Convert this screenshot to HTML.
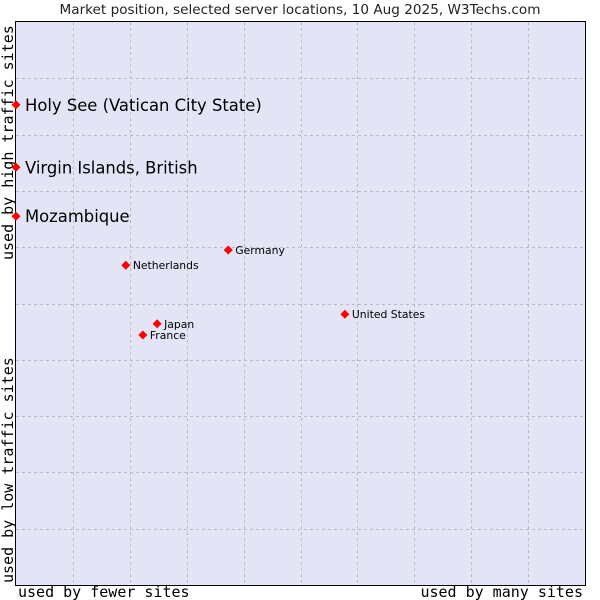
<!DOCTYPE html>
<html><head><meta charset="utf-8"><style>
html,body{margin:0;padding:0;background:#fff;width:600px;height:600px;overflow:hidden}
</style></head><body>
<svg width="600" height="600" xmlns="http://www.w3.org/2000/svg">
<text x="300" y="14" text-anchor="middle" font-family="DejaVu Sans, sans-serif" font-size="13.6" fill="#222">Market position, selected server locations, 10 Aug 2025, W3Techs.com</text>
<rect x="15.5" y="21.5" width="570" height="564" fill="#e3e5f7" stroke="#000" stroke-width="1"/>
<g id="grid"></g>
<text x="18" y="597" font-family="DejaVu Sans Mono, monospace" font-size="15" fill="#000">used by fewer sites</text>
<text x="583" y="597" text-anchor="end" font-family="DejaVu Sans Mono, monospace" font-size="15" fill="#000">used by many sites</text>
<text transform="translate(13,583) rotate(-90)" font-family="DejaVu Sans Mono, monospace" font-size="15" fill="#000">used by low traffic sites</text>
<text transform="translate(13,260) rotate(-90)" font-family="DejaVu Sans Mono, monospace" font-size="15" fill="#000">used by high traffic sites</text>
<g id="points"></g>
</svg>
<script>
const countries = ["Holy See (Vatican City State)","Virgin Islands, British","Mozambique","Germany","Netherlands","United States","Japan","France"];
const xValues = [0,0,0,37.3,19.3,57.8,24.8,22.3];
const yValues = [85.3,74.2,65.5,59.5,56.8,48.1,46.4,44.4];
const bigLabel = [true,true,true,false,false,false,false,false];
const NS="http://www.w3.org/2000/svg";
const X0=16,X1=585,Y0=585,Y1=22;
function sx(v){return X0+v/100*(X1-X0);}
function sy(v){return Y0-v/100*(Y0-Y1);}
const grid=document.getElementById('grid');
for(let i=1;i<10;i++){
  const v=document.createElementNS(NS,'line');
  
  
  const gx=Math.round(sx(i*10))+0.5;
  v.setAttribute('x1',gx);v.setAttribute('x2',gx);v.setAttribute('y1',22);v.setAttribute('y2',585);
  v.setAttribute('stroke','#bbb');v.setAttribute('stroke-dasharray','3,3');
  grid.appendChild(v);
  const h=document.createElementNS(NS,'line');
  
  
  const gy=Math.round(sy(i*10))+0.5;
  h.setAttribute('y1',gy);h.setAttribute('y2',gy);h.setAttribute('x1',16);h.setAttribute('x2',585);
  h.setAttribute('stroke','#bbb');h.setAttribute('stroke-dasharray','3,3');
  grid.appendChild(h);
}
const pts=document.getElementById('points');
countries.forEach((c,i)=>{
  const x=sx(xValues[i]),y=sy(yValues[i]);
  const m=document.createElementNS(NS,'polygon');
  
  
  m.setAttribute('points',`${x},${y-4.5} ${x+4.5},${y} ${x},${y+4.5} ${x-4.5},${y}`);
  m.setAttribute('fill','#f00');
  pts.appendChild(m);
  const t=document.createElementNS(NS,'text');
  
  
  t.setAttribute('x',x+(bigLabel[i]?9:7));
  t.setAttribute('y',y+(bigLabel[i]?6:4));
  t.setAttribute('font-family','DejaVu Sans, sans-serif');
  t.setAttribute('font-size',bigLabel[i]?16.4:10.8);
  t.setAttribute('fill','#000');
  t.textContent=c;
  pts.appendChild(t);
});
</script>
</body></html>
